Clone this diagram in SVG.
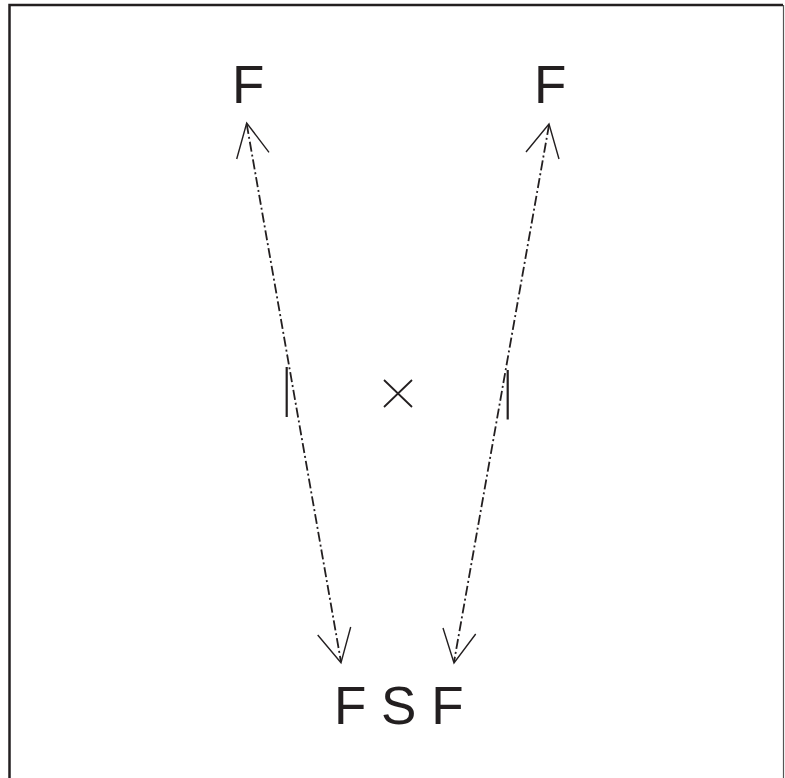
<svg xmlns="http://www.w3.org/2000/svg" width="785" height="778" viewBox="0 0 785 778">
<style>
.lbl{font-family:"Liberation Sans",Arial,sans-serif;font-size:53px;fill:#231f20}
.axis{fill:none;stroke:#231f20;stroke-width:1.8;stroke-dasharray:10 3 2 3}
.head{fill:none;stroke:#231f20;stroke-width:1.4}
.tick{stroke:#231f20;stroke-width:2.2}
</style>
<rect width="785" height="778" fill="#fff"/>
<g id="frame" fill="none">
<path d="M9.5,778 V5 H783" stroke="#231f20" stroke-width="2.5"/>
<path d="M783.5,5 V778" stroke="#555" stroke-width="1.2"/>
</g>
<g id="node-top-left"><text class="lbl" x="232" y="103">F</text></g>
<g id="node-top-right"><text class="lbl" x="534" y="103">F</text></g>
<g id="node-bottom"><text class="lbl" x="334" y="724" xml:space="preserve">F S F</text></g>
<g id="center-mark"><path d="M384,380 L412,407 M412,380 L384,407" stroke="#231f20" stroke-width="1.8"/></g>
<g id="connectors">
<line class="axis" x1="246.7" y1="124" x2="341" y2="662"/>
<polyline class="head" points="236.7,159 246.7,123 269,152.3"/>
<polyline class="head" points="317.7,635 341,662.7 350.7,627"/>
<line class="axis" x1="549" y1="125" x2="454" y2="662"/>
<polyline class="head" points="526,152 549,124 559,159"/>
<polyline class="head" points="443,628 454,663 475.7,634"/>
<line class="tick" x1="286.7" y1="367" x2="286.7" y2="417"/>
<line class="tick" x1="507.7" y1="370" x2="507.7" y2="419.5"/>
</g>
</svg>
